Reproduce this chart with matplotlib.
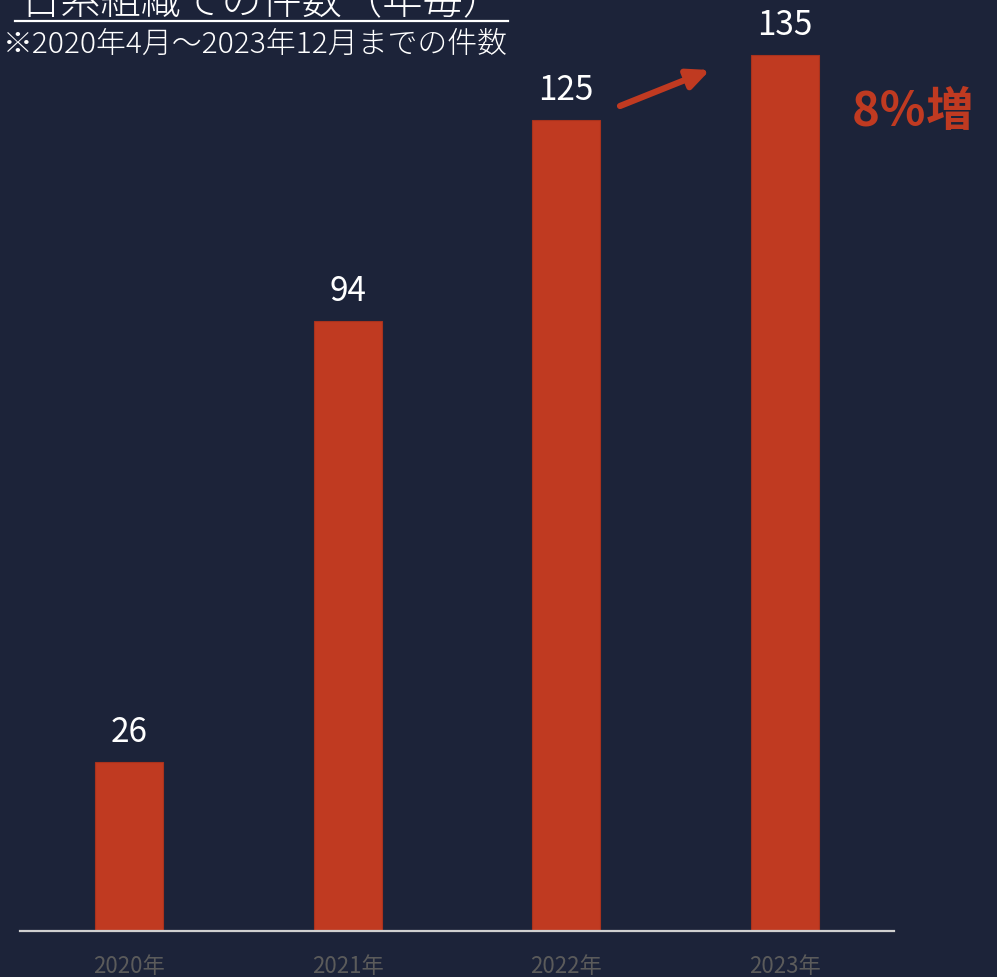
import matplotlib
matplotlib.use("Agg")
import matplotlib.pyplot as plt
from matplotlib.lines import Line2D

plt.rcParams['font.family'] = ['Noto Sans CJK JP', 'DejaVu Sans']

years = ['2020年', '2021年', '2022年', '2023年']
counts = [26, 94, 125, 135]
title = '日系組織での件数（年毎）'
note = '※2020年4月～2023年12月までの件数'
growth = '8％増'

bg = '#1c2339'
red = '#c03a21'

W, H = 997, 977
fig = plt.figure(figsize=(W / 100, H / 100), dpi=100, facecolor=bg)
ax = fig.add_axes([20 / W, (H - 931) / H, 874 / W, 931 / H], facecolor=bg)

x = range(len(years))
bars = ax.bar(x, counts, width=0.31, color=red, edgecolor='#a8321d', linewidth=0.8, zorder=2)
for b, v in zip(bars, counts):
    ax.annotate(str(v), (b.get_x() + b.get_width() / 2, v), xytext=(0, 9),
                textcoords='offset points', ha='center', va='bottom',
                color='white', fontsize=24)

ax.set_xlim(-0.5, 3.5)
ax.set_ylim(0, 143.5)
ax.set_xticks(list(x))
ax.set_xticklabels(years, color='#5b5b5b', fontsize=16)
ax.tick_params(axis='x', length=0, pad=17)
ax.set_yticks([])
for s in ['top', 'right', 'left']:
    ax.spines[s].set_visible(False)
ax.spines['bottom'].set_color('#d0d0d0')
ax.spines['bottom'].set_linewidth(1.6)
ax.spines['bottom'].set_zorder(3)

# header text with underline
fig.text(20 / W, 1 - 14 / H, title, color='white', fontsize=29, fontweight='light',
         ha='left', va='baseline')
fig.add_artist(Line2D([15 / W, 508 / W], [1 - 20.5 / H] * 2, color='white', lw=1.6))
fig.text(3 / W, 1 - 45 / H, note, color='white', fontsize=21.5, fontweight='light',
         ha='left', va='center')

# growth arrow between the last two years
ax.annotate('', xy=(710, H - 70), xycoords='figure pixels',
            xytext=(620, H - 106), textcoords='figure pixels',
            arrowprops=dict(arrowstyle='-|>,head_length=1.3,head_width=0.6',
                            color=red, lw=4.5, shrinkA=0, shrinkB=0))
fig.text(913 / W, 1 - 112 / H, growth, color=red, fontsize=34, fontweight='bold',
         ha='center', va='center')

fig.savefig('out.png', dpi=100, facecolor=bg)
